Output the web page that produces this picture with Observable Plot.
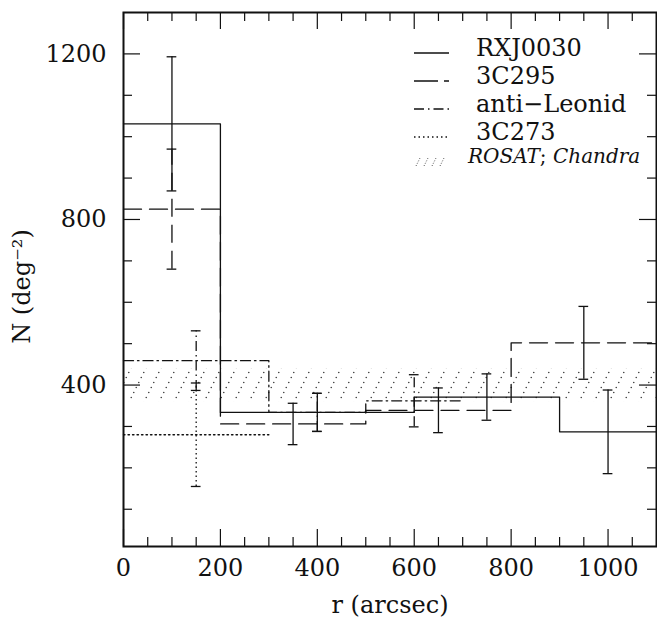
<!DOCTYPE html>
<html>
<head>
<meta charset="utf-8">
<script src="https://cdn.jsdelivr.net/npm/d3@7"></script>
<script src="https://cdn.jsdelivr.net/npm/@observablehq/plot@0.6"></script>
<style>
  html, body { margin: 0; padding: 0; background: #fff; }
</style>
</head>
<body>
<div id="chart"></div>
<script>
// ---------------- data ----------------
const seriesNames = ["RXJ0030", "3C295", "anti−Leonid", "3C273"];

// histogram bin edges and values N (deg^-2)
const rxjEdges   = [0, 200, 600, 900, 1100];
const rxjValues  = [1031, 334, 371, 287];
const c295Edges  = [0, 200, 500, 800, 1100];
const c295Values = [825, 306, 339, 502];
const antiEdges  = [0, 300, 500, 700];
const antiValues = [459, 334, 362];
const c273Edges  = [0, 300];
const c273Values = [280];

// error bars: positions and half-lengths
const rxjErrX  = [100, 400, 750, 1000];
const rxjErr   = [162, 46, 56, 101];
const c295ErrX = [100, 350, 650, 950];
const c295Err  = [145, 50, 54, 88];
const antiErrX = [150, 400, 600];
const antiErr  = [72, 46, 63];
const c273ErrX = [150];
const c273Err  = [125];

// ROSAT; Chandra band
const bandLow = 360;
const bandHigh = 440;

// axes
const xDomain = [0, 1100];
const yDomain = [10, 1300];
const xLabelTicks = [0, 200, 400, 600, 800, 1000];
const xMinorTicks = d3.range(50, 1100, 50).filter(v => v % 200 !== 0);
const yLabelTicks = [400, 800, 1200];
const yMinorTicks = d3.range(100, 1300, 100).filter(v => v % 400 !== 0);

// ---------------- helpers ----------------
function stepPoints(edges, values) {
  const pts = values.map((v, i) => ({x: edges[i], y: v}));
  pts.push({x: edges[edges.length - 1], y: values[values.length - 1]});
  return pts;
}
function binValue(edges, values, x) {
  for (let i = 0; i < values.length; i++) if (x >= edges[i] && x < edges[i + 1]) return values[i];
  return values[values.length - 1];
}
function errRows(name, edges, values, xs, es) {
  return xs.map((x, i) => ({series: name, x, v: binValue(edges, values, x), e: es[i], first: i === 0}));
}

const dashOf = {
  "RXJ0030": null,
  "3C295": "18,8",
  "anti−Leonid": "10,4,1.5,4",
  "3C273": "1.5,3"
};

const series = [
  {name: seriesNames[0], pts: stepPoints(rxjEdges, rxjValues)},
  {name: seriesNames[1], pts: stepPoints(c295Edges, c295Values)},
  {name: seriesNames[2], pts: stepPoints(antiEdges, antiValues)},
  {name: seriesNames[3], pts: stepPoints(c273Edges, c273Values)}
];

const errs = [
  ...errRows(seriesNames[0], rxjEdges, rxjValues, rxjErrX, rxjErr),
  ...errRows(seriesNames[1], c295Edges, c295Values, c295ErrX, c295Err),
  ...errRows(seriesNames[2], antiEdges, antiValues, antiErrX, antiErr),
  ...errRows(seriesNames[3], c273Edges, c273Values, c273ErrX, c273Err)
];
// error-bar line style: dotted/dash-dot series keep their style; 3C295 only the first bar dashed
function errDash(d) {
  if (d.series === "3C295") return d.first ? dashOf["3C295"] : null;
  return dashOf[d.series];
}
const errGroups = d3.groups(errs, d => errDash(d) || "solid");

// ---------------- layout ----------------
const W = 657, H = 618, mL = 123, mR = 1, mT = 12, mB = 72;
const fw = W - mL - mR, fh = H - mT - mB;
const majorLen = 17, minorLen = 9;
const ink = "#111";
const lw = 1.3;

const marks = [];
// band
marks.push(Plot.rect([{lo: bandLow, hi: bandHigh}], {
  x1: xDomain[0], x2: xDomain[1], y1: "lo", y2: "hi", fill: "#bbb"
}));
// histograms
for (const s of series) {
  marks.push(Plot.line(s.pts, {
    x: "x", y: "y", curve: "step-after", stroke: ink, strokeWidth: lw,
    strokeDasharray: dashOf[s.name] || undefined
  }));
}
// error bars
for (const [key, rows] of errGroups) {
  const dash = key === "solid" ? undefined : key;
  marks.push(Plot.ruleX(rows, {x: "x", y1: d => d.v - d.e, y2: d => d.v + d.e, stroke: ink, strokeWidth: lw, strokeDasharray: dash}));
  marks.push(Plot.ruleY(rows, {y: d => d.v + d.e, x1: d => d.x - 10, x2: d => d.x + 10, stroke: ink, strokeWidth: lw}));
  marks.push(Plot.ruleY(rows, {y: d => d.v - d.e, x1: d => d.x - 10, x2: d => d.x + 10, stroke: ink, strokeWidth: lw}));
}
// inward ticks on all four sides
const tk = {stroke: ink, strokeWidth: 1.2};
marks.push(Plot.ruleX(xLabelTicks, {x: d => d, insetTop: fh - majorLen, ...tk}));
marks.push(Plot.ruleX(xLabelTicks, {x: d => d, insetBottom: fh - majorLen, ...tk}));
marks.push(Plot.ruleX(xMinorTicks, {x: d => d, insetTop: fh - minorLen, ...tk}));
marks.push(Plot.ruleX(xMinorTicks, {x: d => d, insetBottom: fh - minorLen, ...tk}));
marks.push(Plot.ruleY(yLabelTicks, {y: d => d, insetRight: fw - majorLen, ...tk}));
marks.push(Plot.ruleY(yLabelTicks, {y: d => d, insetLeft: fw - majorLen, ...tk}));
marks.push(Plot.ruleY(yMinorTicks, {y: d => d, insetRight: fw - minorLen, ...tk}));
marks.push(Plot.ruleY(yMinorTicks, {y: d => d, insetLeft: fw - minorLen, ...tk}));
// tick labels
marks.push(Plot.axisX({ticks: xLabelTicks, tickSize: 0, tickPadding: 12, tickFormat: d3.format("d"), label: null, fill: ink}));
marks.push(Plot.axisY({ticks: yLabelTicks, tickSize: 0, tickPadding: 17, tickFormat: d3.format("d"), label: null, fill: ink}));
// axis titles
marks.push(Plot.text(["r (arcsec)"], {text: d => d, frameAnchor: "bottom", textAnchor: "middle", lineAnchor: "middle", dy: 59, fill: ink}));
marks.push(Plot.text(["N (deg⁻²)"], {text: d => d, frameAnchor: "left", textAnchor: "middle", lineAnchor: "middle", rotate: -90, dx: -101, dy: 7, fill: ink}));
// frame
marks.push(Plot.frame({stroke: ink, strokeWidth: 2}));

const svg = Plot.plot({
  width: W, height: H,
  marginLeft: mL, marginRight: mR, marginTop: mT, marginBottom: mB,
  style: {fontFamily: '"DejaVu Serif", serif', fontSize: "24px", color: ink, background: "#fff"},
  x: {domain: xDomain},
  y: {domain: yDomain},
  marks
});

// hatch pattern for the band
const sel = d3.select(svg);
const defs = sel.insert("defs", ":first-child");
const pat = defs.append("pattern")
  .attr("id", "hatch").attr("patternUnits", "userSpaceOnUse")
  .attr("width", 15).attr("height", 30);
for (let k = 0; k < 6; k++) {
  pat.append("circle").attr("cx", 1.25 + 2.5 * k).attr("cy", 27.5 - 5 * k).attr("r", 0.8).attr("fill", "#444");
}
sel.select('g[aria-label="rect"]').selectAll("rect").attr("fill", "url(#hatch)");

// legend
const lg = sel.append("g").attr("font-family", '"DejaVu Serif", serif').attr("fill", ink).attr("text-anchor", "start");
const rows = [
  {name: seriesNames[0], base: 56},
  {name: seriesNames[1], base: 84},
  {name: seriesNames[2], base: 112},
  {name: seriesNames[3], base: 140}
];
for (const r of rows) {
  lg.append("line").attr("x1", 414).attr("x2", 449).attr("y1", r.base - 3).attr("y2", r.base - 3)
    .attr("stroke", ink).attr("stroke-width", lw)
    .attr("stroke-dasharray", dashOf[r.name] === "18,8" ? "24,6" : dashOf[r.name]);
  lg.append("text").attr("x", 476).attr("y", r.base).attr("font-size", 24).attr("text-anchor", "start").text(r.name);
}
for (let i = 0; i < 4; i++) {
  lg.append("line").attr("x1", 416 + i * 8).attr("y1", 166).attr("x2", 420 + i * 8).attr("y2", 158)
    .attr("stroke", "#555").attr("stroke-width", 1).attr("stroke-dasharray", "1,1.6");
}
const t = lg.append("text").attr("x", 468).attr("y", 163).attr("font-size", 20).attr("text-anchor", "start");
t.append("tspan").attr("font-style", "italic").text("ROSAT");
t.append("tspan").text("; ");
t.append("tspan").attr("font-style", "italic").text("Chandra");

document.getElementById("chart").appendChild(svg);
</script>
</body>
</html>
